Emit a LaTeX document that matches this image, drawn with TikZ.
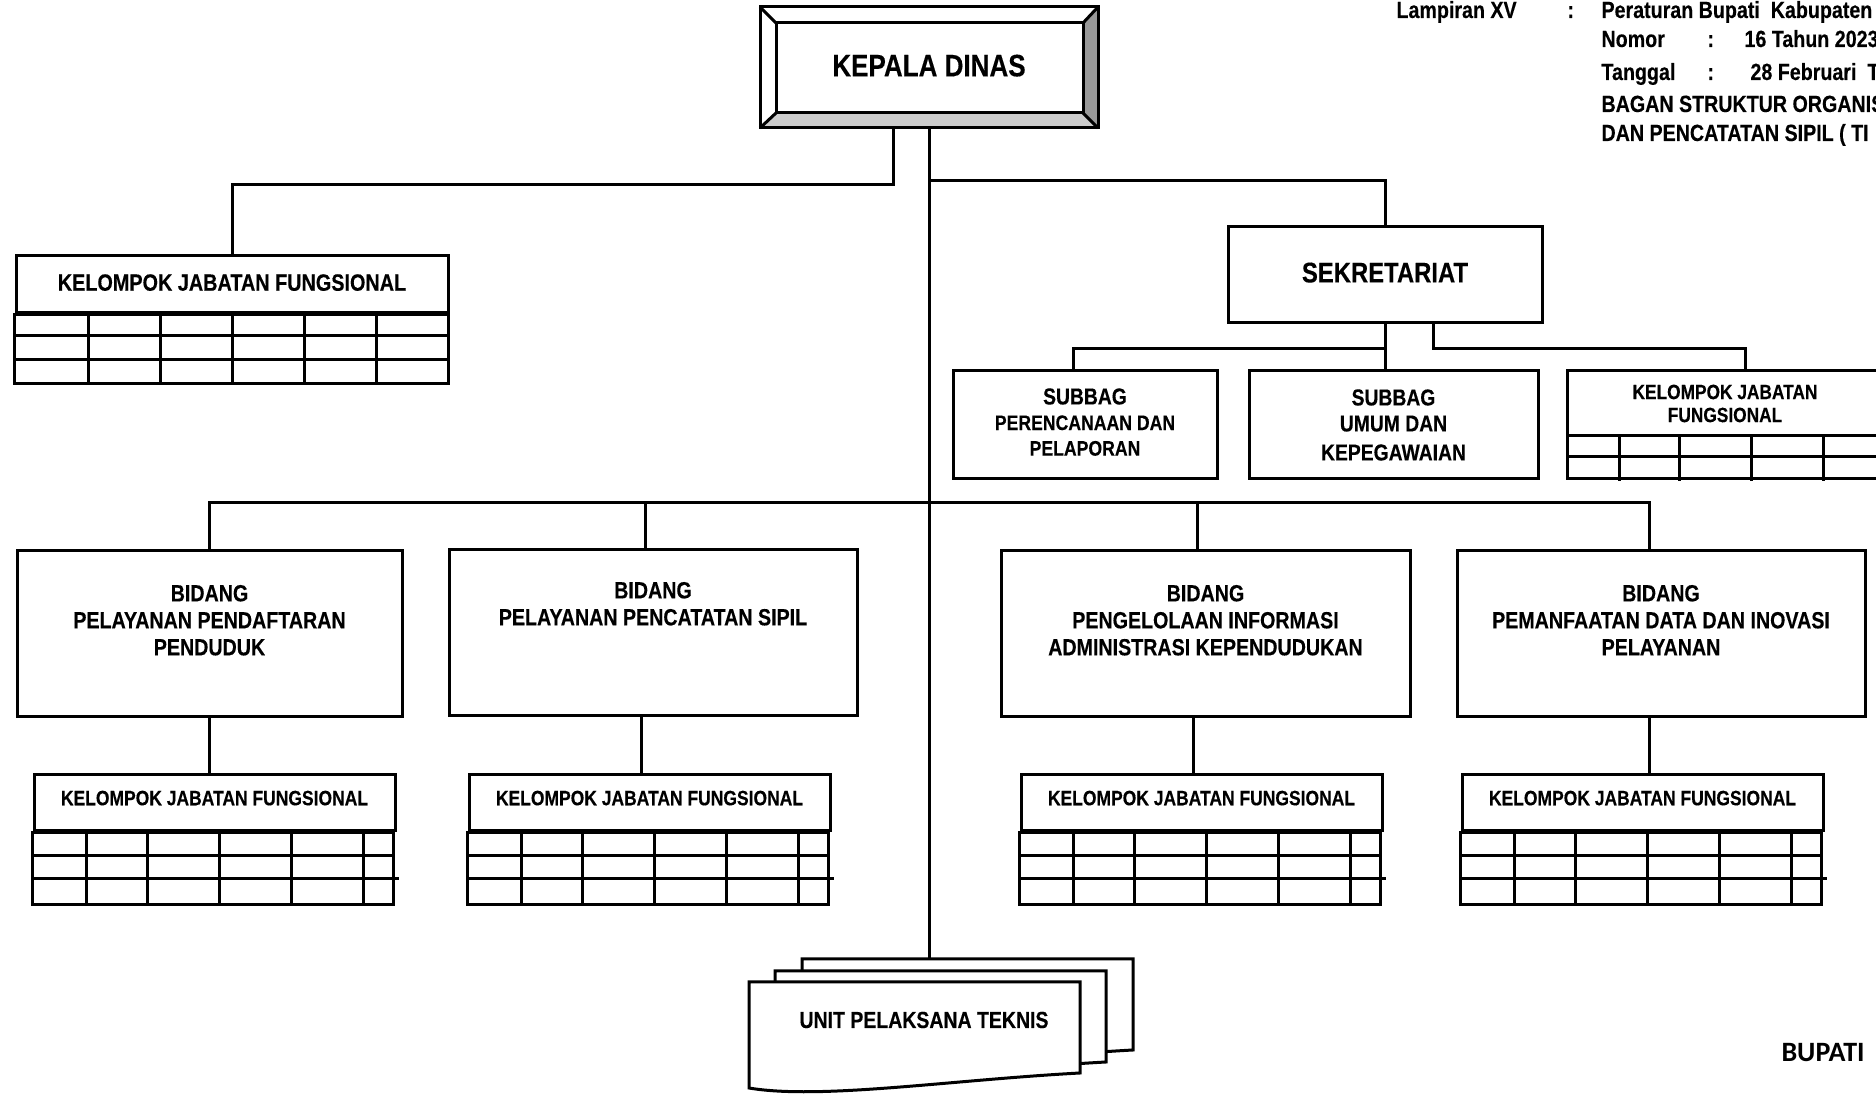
\documentclass[tikz,border=0pt]{standalone}
\usepackage{fontspec}
\setmainfont{Liberation Sans}[FakeStretch=0.84,BoldFeatures={FakeBold=0.3}]
\newfontfamily\bupatifont{Carlito}
\usetikzlibrary{positioning}

\begin{document}
\begin{tikzpicture}[x=0.5pt,y=-0.5pt,line width=1.5pt,
    unit/.style={draw,rectangle,inner sep=0pt,align=center},
    txt/.style={inner sep=0pt,align=center},
    bidtext/.style={txt,font=\bfseries\fontsize{11.7}{13.5}\selectfont},
    jftext/.style={text depth=5pt,font=\bfseries\fontsize{10.4}{12}\selectfont},
    hdr/.style={inner sep=0pt,anchor=base west,font=\bfseries\fontsize{11.7}{14}\selectfont}]
    \useasboundingbox (0,0) rectangle (1876,1095);

    % kepala dinas
    \fill[black!40] (1098,7) -- (1098,128) -- (1083,113) -- (1083,23) -- cycle;
    \fill[black!20] (760,128) -- (1098,128) -- (1083,113) -- (776,113) -- cycle;
    \node[unit,minimum width=169pt,minimum height=60.5pt,text depth=2pt,font=\bfseries\fontsize{15.5}{18}\selectfont] (kadis) at (929,67.5) {KEPALA DINAS};
    \draw (776,23) rectangle (1083,113);
    \draw (760,7) -- (776,23) (1098,7) -- (1083,23) (760,128) -- (776,113) (1098,128) -- (1083,113);

    % kelompok jabatan fungsional (kiri atas)
    \node[unit,minimum width=216pt,minimum height=28.5pt,text depth=2pt,font=\bfseries\fontsize{11.8}{14}\selectfont] (jf0) at (232,284.5) {KELOMPOK JABATAN FUNGSIONAL};
    \draw (jf0.south west) rectangle (448,384);
    \draw (16,336) -- (448,336) (13,360) -- (448,360);
    \foreach \x in {88,160,232,304,376} \draw (\x,313) -- (\x,384);

    % sekretariat
    \node[unit,minimum width=157pt,minimum height=48pt,text depth=2.5pt,font=\bfseries\fontsize{14.2}{17}\selectfont] (sekre) at (1385,275) {SEKRETARIAT};
    \node[unit,minimum width=132pt,minimum height=54pt,text depth=3pt,font=\bfseries\fontsize{10.5}{12.8}\selectfont] (sub1) at (1085,425)
        {{\fontsize{11.5}{11.5}\selectfont SUBBAG}\\PERENCANAAN DAN\\PELAPORAN};
    \node[unit,minimum width=144.5pt,minimum height=54pt,font=\bfseries\fontsize{11.5}{13}\selectfont] (sub2) at (1393.5,425)
        {SUBBAG\\UMUM DAN\\[1.5pt]KEPEGAWAIAN};
    \node[unit,minimum width=158pt,minimum height=32.5pt,font=\bfseries\fontsize{10.3}{11.5}\selectfont] (jf5) at (1725,403.5)
        {KELOMPOK JABATAN\\FUNGSIONAL};
    \draw (1567,436) rectangle (1883,479);
    \draw (1567,457) -- (1883,457);
    \foreach \x in {1619,1679,1751,1823} \draw (\x,436) -- (\x,481);

    % bidang
    \node[unit,minimum width=192.5pt,minimum height=83pt] (bid1) at (209.5,634) {};
    \node[unit,minimum width=204pt,minimum height=83pt] (bid2) at (653,633) {};
    \node[unit,minimum width=204.5pt,minimum height=83pt] (bid3) at (1205.5,634) {};
    \node[unit,minimum width=204pt,minimum height=83pt] (bid4) at (1661,634) {};
    \node[bidtext,below=17pt of bid1.north] (bid1t) {BIDANG\\PELAYANAN PENDAFTARAN\\PENDUDUK};
    \node[bidtext,below=16pt of bid2.north] (bid2t) {BIDANG\\PELAYANAN PENCATATAN SIPIL};
    \node[bidtext,below=17pt of bid3.north] (bid3t) {BIDANG\\PENGELOLAAN INFORMASI\\ADMINISTRASI KEPENDUDUKAN};
    \node[bidtext,below=17pt of bid4.north] (bid4t) {BIDANG\\PEMANFAATAN DATA DAN INOVASI\\PELAYANAN};

    % kelompok jabatan fungsional (bawah)
    \foreach \n/\lx in {1/34,2/469,3/1021,4/1462}{
        \node[unit,jftext,minimum width=180.5pt,minimum height=28pt] (jf\n) at (\lx+180.5,803) {KELOMPOK JABATAN FUNGSIONAL};
        \draw (jf\n.south west) rectangle ++(361,72);
        \draw (\lx,856) -- ++(361,0) (\lx,879) -- ++(365,0);
        \foreach \c in {52,113,185,257,329} \draw (\lx+\c,831) -- (\lx+\c,903);
    }

    % unit pelaksana teknis
    \foreach \dx/\dy in {53/-23,26/-11,0/0}
        \draw[fill=white,shift={(\dx,\dy)}] (749,982) -- (1080,982) -- (1080,1073)
            .. controls (950,1080) and (820,1100) .. (749,1088) -- cycle;
    \node[txt,font=\bfseries\fontsize{11.6}{14}\selectfont] (upttxt) at (924,1020) {UNIT PELAKSANA TEKNIS};

    % garis
    \coordinate (bus) at (929,503);
    \coordinate (upt) at (929,959);
    \draw (kadis.south) -- (upt);
    \draw ([xshift=-18pt]kadis.south) -- ++(0,55) -| (jf0.north);
    \draw (kadis.south) -- ++(0,51) -| (sekre.north);
    \draw (sekre.south) -- (sekre.south |- sub2.north);
    \draw ([yshift=-12pt]sekre.south) -| ([xshift=-6pt]sub1.north);
    \draw ([xshift=24pt]sekre.south) -- ++(0,24) -| ([xshift=10pt]jf5.north);
    \draw (bid1.north) |- (bus);
    \draw ([xshift=-6pt]bid4.north) |- (bus);
    \draw ([xshift=-4pt]bid2.north) -- ([xshift=-4pt]bid2.north |- bus);
    \draw ([xshift=-4pt]bid3.north) -- ([xshift=-4pt]bid3.north |- bus);
    \draw (bid1.south) -- (bid1.south |- jf1.north);
    \draw ([xshift=-6pt]bid2.south) -- ([xshift=-6pt]bid2.south |- jf2.north);
    \draw ([xshift=-6pt]bid3.south) -- ([xshift=-6pt]bid3.south |- jf3.north);
    \draw ([xshift=-6pt]bid4.south) -- ([xshift=-6pt]bid4.south |- jf4.north);

    % lampiran
    \node[hdr] (h1) at (1395,18) {Lampiran XV};
    \node[hdr] (h2) at (1566,18) {:};
    \node[hdr] (h3) at (1600,18) {Peraturan Bupati\ \ Kabupaten};
    \node[hdr] (h4) at (1600,47) {Nomor};
    \node[hdr] (h5) at (1706,47) {:};
    \node[hdr] (h6) at (1743,47) {16 Tahun 2023};
    \node[hdr] (h7) at (1600,80) {Tanggal};
    \node[hdr] (h8) at (1706,80) {:};
    \node[hdr] (h9) at (1749,80) {28 Februari\ \ T};
    \node[hdr] (h10) at (1600,112) {BAGAN STRUKTUR ORGANIS};
    \node[hdr] (h11) at (1600,141) {DAN PENCATATAN SIPIL ( TI};
    \node[inner sep=0pt,anchor=west,font=\bupatifont\bfseries\fontsize{14}{16}\selectfont] (bupati) at (1780,1053) {BUPATI};
\end{tikzpicture}
\end{document}
